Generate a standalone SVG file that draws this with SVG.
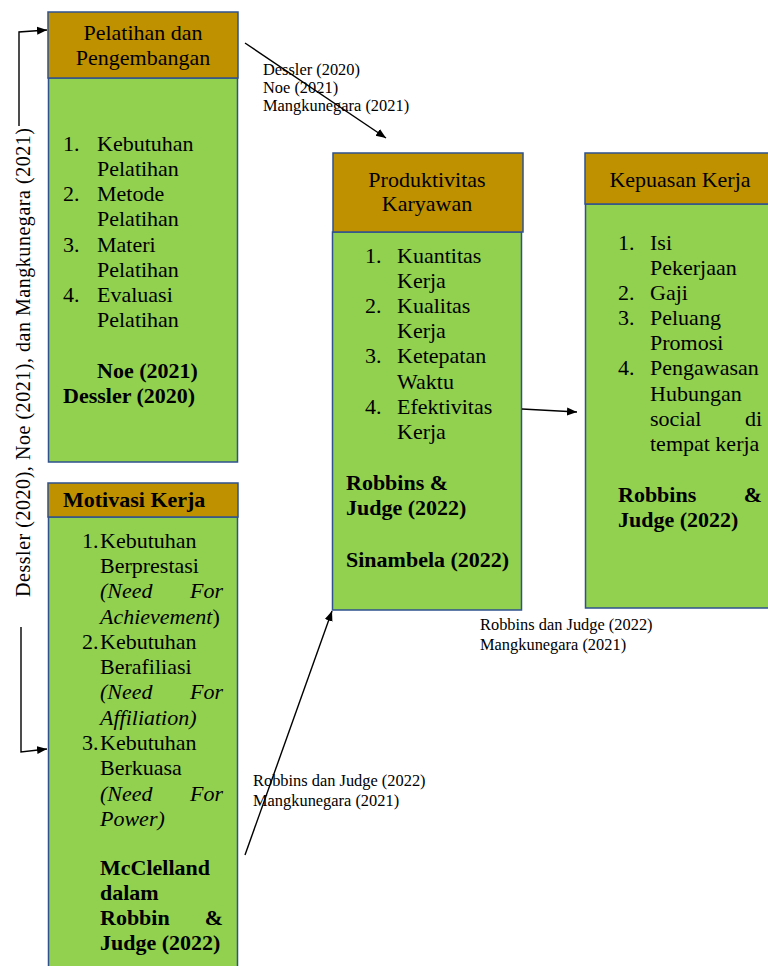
<svg xmlns="http://www.w3.org/2000/svg" width="768" height="966" viewBox="0 0 768 966" font-family="'Liberation Serif', 'DejaVu Serif', serif">
<defs>
<style>
.hd{fill:#BF9000;stroke:#2F528F;stroke-width:1.5}
.bd{fill:#92D050;stroke:#2F528F;stroke-width:1.5}
text{font-family:'Liberation Serif','DejaVu Serif',serif;fill:#000}
.t{font-size:22px}
.b{font-size:22px;font-weight:bold}
.i{font-size:22px;font-style:italic}
.c{text-anchor:middle}
.e{text-anchor:end}
.lb{font-size:16.4px}
.rt{font-size:20px}
.ln{fill:none;stroke:#000;stroke-width:1.4}
</style>
<marker id="ah" markerUnits="userSpaceOnUse" markerWidth="12" markerHeight="10" refX="10" refY="5" orient="auto">
<path d="M0,1 L10,5 L0,9 Z" fill="#000"/>
</marker>
</defs>
<rect width="768" height="966" fill="#fff"/>

<g id="pelatihan">
<rect class="bd" x="48.5" y="78" width="189" height="384"/>
<rect class="hd" x="48" y="12" width="190" height="66"/>
<text class="t c" x="143" y="40">Pelatihan dan</text>
<text class="t c" x="143" y="65">Pengembangan</text>
<text class="t" x="63" y="151">1.</text><text class="t" x="97" y="151">Kebutuhan</text>
<text class="t" x="97" y="176">Pelatihan</text>
<text class="t" x="63" y="201">2.</text><text class="t" x="97" y="201">Metode</text>
<text class="t" x="97" y="226">Pelatihan</text>
<text class="t" x="63" y="252">3.</text><text class="t" x="97" y="252">Materi</text>
<text class="t" x="97" y="277">Pelatihan</text>
<text class="t" x="63" y="302">4.</text><text class="t" x="97" y="302">Evaluasi</text>
<text class="t" x="97" y="327">Pelatihan</text>
<text class="b" x="97" y="378">Noe (2021)</text>
<text class="b" x="63" y="403">Dessler (2020)</text>
</g>

<g id="motivasi">
<rect class="bd" x="48.5" y="517" width="189" height="460"/>
<rect class="hd" x="48" y="483" width="190" height="34"/>
<text class="b" x="63" y="507">Motivasi Kerja</text>
<text class="t" x="82" y="548">1.</text><text class="t" x="100" y="548">Kebutuhan</text>
<text class="t" x="100" y="573">Berprestasi</text>
<text class="i" x="100" y="598">(Need</text><text class="i e" x="223" y="598">For</text>
<text class="i" x="100" y="624"><tspan>Achievement</tspan><tspan font-style="normal">)</tspan></text>
<text class="t" x="82" y="649">2.</text><text class="t" x="100" y="649">Kebutuhan</text>
<text class="t" x="100" y="674">Berafiliasi</text>
<text class="i" x="100" y="699">(Need</text><text class="i e" x="223" y="699">For</text>
<text class="i" x="100" y="725">Affiliation)</text>
<text class="t" x="82" y="750">3.</text><text class="t" x="100" y="750">Kebutuhan</text>
<text class="t" x="100" y="775">Berkuasa</text>
<text class="i" x="100" y="801">(Need</text><text class="i e" x="223" y="801">For</text>
<text class="i" x="100" y="826">Power)</text>
<text class="b" x="100" y="875">McClelland</text>
<text class="b" x="100" y="900">dalam</text>
<text class="b" x="100" y="925">Robbin</text><text class="b e" x="223" y="925">&amp;</text>
<text class="b" x="100" y="950">Judge (2022)</text>
</g>

<g id="produktivitas">
<rect class="bd" x="332.5" y="232" width="189" height="378"/>
<rect class="hd" x="333" y="153" width="190" height="79"/>
<text class="t c" x="427" y="187">Produktivitas</text>
<text class="t c" x="427" y="211">Karyawan</text>
<text class="t" x="365" y="263">1.</text><text class="t" x="397" y="263">Kuantitas</text>
<text class="t" x="397" y="288">Kerja</text>
<text class="t" x="365" y="313">2.</text><text class="t" x="397" y="313">Kualitas</text>
<text class="t" x="397" y="338">Kerja</text>
<text class="t" x="365" y="363">3.</text><text class="t" x="397" y="363">Ketepatan</text>
<text class="t" x="397" y="389">Waktu</text>
<text class="t" x="365" y="414">4.</text><text class="t" x="397" y="414">Efektivitas</text>
<text class="t" x="397" y="439">Kerja</text>
<text class="b" x="346" y="490">Robbins &amp;</text>
<text class="b" x="346" y="515">Judge (2022)</text>
<text class="b" x="346" y="567">Sinambela (2022)</text>
</g>

<g id="kepuasan">
<rect class="bd" x="585.5" y="204" width="189" height="404"/>
<rect class="hd" x="585" y="153" width="190" height="51"/>
<text class="t c" x="680" y="187">Kepuasan Kerja</text>
<text class="t" x="618" y="250">1.</text><text class="t" x="650" y="250">Isi</text>
<text class="t" x="650" y="275">Pekerjaan</text>
<text class="t" x="618" y="300">2.</text><text class="t" x="650" y="300">Gaji</text>
<text class="t" x="618" y="325">3.</text><text class="t" x="650" y="325">Peluang</text>
<text class="t" x="650" y="350">Promosi</text>
<text class="t" x="618" y="375">4.</text><text class="t" x="650" y="375">Pengawasan</text>
<text class="t" x="650" y="401">Hubungan</text>
<text class="t" x="650" y="426">social</text><text class="t e" x="762" y="426">di</text>
<text class="t" x="650" y="451">tempat kerja</text>
<text class="b" x="618" y="502">Robbins</text><text class="b e" x="762" y="502">&amp;</text>
<text class="b" x="618" y="527">Judge (2022)</text>
</g>

<g id="connectors">
<path class="ln" d="M19,126 L19,32 L47,30" marker-end="url(#ah)"/>
<path class="ln" d="M21,627 L21,752 L47,749" marker-end="url(#ah)"/>
<text class="rt" transform="translate(30,597) rotate(-90)" textLength="469" lengthAdjust="spacing">Dessler (2020), Noe (2021), dan Mangkunegara (2021)</text>
<path class="ln" d="M245,43 L386,138" marker-end="url(#ah)"/>
<text class="lb" x="263" y="75">Dessler (2020)</text>
<text class="lb" x="263" y="93">Noe (2021)</text>
<text class="lb" x="263" y="111">Mangkunegara (2021)</text>
<path class="ln" d="M522,409 L577,412" marker-end="url(#ah)"/>
<text class="lb" x="480" y="630">Robbins dan Judge (2022)</text>
<text class="lb" x="480" y="650">Mangkunegara (2021)</text>
<path class="ln" d="M245,855 L332,611" marker-end="url(#ah)"/>
<text class="lb" x="253" y="786">Robbins dan Judge (2022)</text>
<text class="lb" x="253" y="806">Mangkunegara (2021)</text>
</g>
</svg>
